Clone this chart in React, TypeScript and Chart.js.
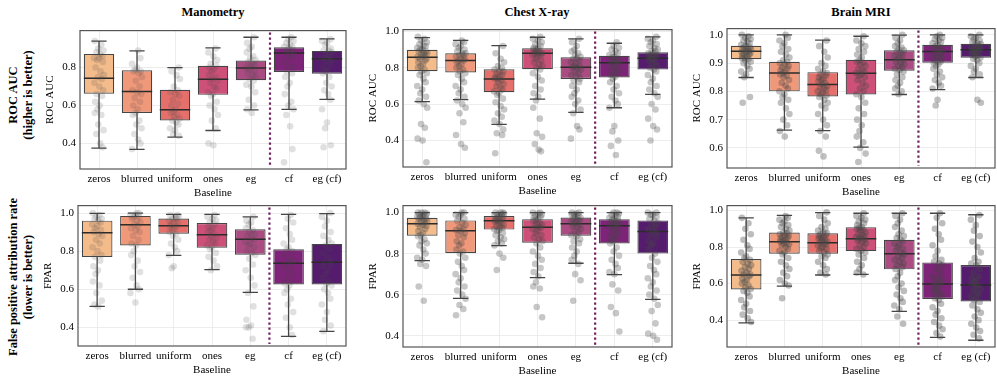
import React, { useEffect, useRef } from 'react';
import { Chart, registerables } from 'chart.js';

Chart.register(...registerables);

const FONT = "'Liberation Serif', 'DejaVu Serif', serif";
Chart.defaults.font.family = FONT;
Chart.defaults.color = '#000';

const BASELINES = ['zeros', 'blurred', 'uniform', 'ones', 'eg', 'cf', 'eg (cf)'];
const BOX_COLORS = ['#f4bb8b', '#f0987a', '#e5706b', '#cd5078', '#aa4b82', '#7d2378', '#551c6e'];

// [whiskerLow, q1, median, q3, whiskerHigh] per baseline
const MANO_ROC_STATS = [
  [0.375, 0.662, 0.744, 0.872, 0.94],
  [0.368, 0.56, 0.674, 0.786, 0.888],
  [0.433, 0.521, 0.577, 0.683, 0.8],
  [0.468, 0.656, 0.738, 0.809, 0.904],
  [0.577, 0.733, 0.798, 0.837, 0.96],
  [0.58, 0.777, 0.877, 0.907, 0.96],
  [0.632, 0.768, 0.846, 0.888, 0.951],
];
const CHEST_ROC_STATS = [
  [0.614, 0.781, 0.858, 0.899, 0.966],
  [0.625, 0.774, 0.84, 0.88, 0.951],
  [0.488, 0.665, 0.738, 0.792, 0.922],
  [0.628, 0.792, 0.88, 0.907, 0.968],
  [0.555, 0.738, 0.803, 0.858, 0.959],
  [0.58, 0.747, 0.827, 0.866, 0.935],
  [0.654, 0.79, 0.853, 0.885, 0.97],
];
const BRAIN_ROC_STATS = [
  [0.849, 0.914, 0.942, 0.961, 1.0],
  [0.663, 0.8, 0.865, 0.905, 1.0],
  [0.661, 0.782, 0.824, 0.868, 0.981],
  [0.603, 0.789, 0.864, 0.912, 0.995],
  [0.789, 0.873, 0.912, 0.945, 0.999],
  [0.806, 0.901, 0.941, 0.965, 1.0],
  [0.849, 0.919, 0.947, 0.968, 1.0],
];
const MANO_FPAR_STATS = [
  [0.51, 0.769, 0.896, 0.96, 0.998],
  [0.6, 0.83, 0.938, 0.985, 1.0],
  [0.778, 0.891, 0.933, 0.971, 0.993],
  [0.703, 0.818, 0.886, 0.948, 0.993],
  [0.584, 0.781, 0.863, 0.915, 0.98],
  [0.353, 0.625, 0.736, 0.81, 0.993],
  [0.379, 0.625, 0.741, 0.838, 0.997],
];
const CHEST_FPAR_STATS = [
  [0.766, 0.887, 0.946, 0.975, 1.0],
  [0.582, 0.803, 0.912, 0.962, 1.0],
  [0.839, 0.917, 0.96, 0.983, 1.0],
  [0.683, 0.853, 0.929, 0.968, 1.0],
  [0.753, 0.887, 0.946, 0.976, 1.0],
  [0.698, 0.849, 0.936, 0.968, 1.0],
  [0.577, 0.8, 0.908, 0.962, 1.0],
];
const BRAIN_FPAR_STATS = [
  [0.385, 0.568, 0.647, 0.735, 0.96],
  [0.586, 0.764, 0.829, 0.88, 0.973],
  [0.647, 0.764, 0.824, 0.875, 0.989],
  [0.651, 0.778, 0.846, 0.909, 0.985],
  [0.448, 0.678, 0.764, 0.84, 0.985],
  [0.306, 0.516, 0.598, 0.716, 0.985],
  [0.29, 0.502, 0.593, 0.702, 0.977],
];

const MANO_ROC_POINTS = [
  [.94,.92,.90,.89,.88,.87,.86,.85,.85,.84,.83,.80,.78,.76,.75,.74,.72,.70,.68,.66,.65,.62,.60,.58,.56,.55,.50,.47,.45,.40,.38],
  [.89,.85,.82,.80,.79,.78,.78,.77,.75,.73,.70,.68,.67,.66,.64,.62,.60,.58,.56,.55,.52,.50,.48,.45,.42,.40,.37],
  [.80,.78,.76,.74,.70,.68,.67,.66,.65,.63,.61,.60,.58,.57,.56,.55,.54,.53,.52,.51,.50,.48,.47,.45,.44],
  [.90,.88,.86,.84,.82,.81,.80,.79,.78,.76,.75,.74,.73,.72,.70,.69,.67,.66,.65,.62,.60,.58,.55,.52,.48,.40,.39],
  [.96,.93,.91,.90,.88,.86,.85,.84,.83,.82,.81,.80,.80,.79,.78,.77,.76,.75,.74,.73,.71,.70,.67,.63,.60,.58,.56],
  [.96,.95,.94,.93,.92,.91,.91,.90,.89,.89,.88,.88,.87,.86,.85,.83,.81,.80,.78,.77,.75,.72,.70,.66,.62,.60,.58,.55,.49,.37,.30],
  [.95,.94,.93,.92,.90,.89,.89,.88,.87,.86,.85,.85,.84,.83,.82,.80,.79,.78,.77,.75,.72,.70,.68,.66,.63,.58,.51,.48,.39,.38],
];
const CHEST_ROC_POINTS = [
  [.97,.96,.95,.94,.93,.92,.92,.91,.90,.90,.89,.89,.88,.88,.87,.87,.86,.86,.85,.85,.84,.83,.82,.81,.80,.79,.78,.77,.76,.74,.72,.70,.68,.66,.64,.62,.60,.58,.49,.47,.41,.40,.28],
  [.95,.94,.93,.92,.91,.90,.89,.88,.88,.87,.87,.86,.85,.85,.84,.84,.83,.82,.81,.80,.79,.78,.77,.76,.74,.72,.70,.68,.66,.64,.62,.60,.58,.55,.50,.43,.38,.36],
  [.92,.88,.85,.83,.81,.80,.79,.78,.78,.77,.76,.75,.75,.74,.74,.73,.72,.71,.70,.69,.68,.67,.66,.65,.63,.61,.59,.57,.55,.53,.51,.49,.46,.44,.43,.33],
  [.97,.96,.95,.94,.93,.92,.91,.91,.90,.90,.89,.89,.88,.88,.88,.87,.87,.86,.85,.84,.83,.82,.81,.80,.79,.77,.75,.73,.70,.68,.66,.64,.62,.58,.52,.44,.42,.38,.35,.34],
  [.96,.94,.92,.90,.89,.88,.87,.86,.85,.85,.84,.83,.82,.81,.81,.80,.80,.79,.78,.77,.76,.75,.74,.73,.72,.70,.68,.66,.64,.62,.60,.57,.55,.48,.46,.41],
  [.94,.92,.91,.90,.89,.88,.87,.86,.86,.85,.84,.84,.83,.83,.82,.81,.80,.79,.78,.77,.76,.75,.74,.72,.70,.68,.66,.64,.62,.60,.58,.48,.45,.40,.37,.32],
  [.97,.96,.95,.94,.93,.92,.91,.90,.89,.89,.88,.88,.87,.87,.86,.86,.85,.85,.84,.83,.82,.81,.80,.79,.78,.76,.74,.72,.70,.68,.66,.64,.60,.57,.52,.48,.46,.40],
];
const BRAIN_ROC_POINTS = [
  [1.0,.995,.99,.985,.98,.975,.97,.965,.96,.958,.955,.952,.95,.948,.945,.943,.94,.938,.935,.932,.93,.927,.924,.92,.917,.914,.91,.905,.9,.89,.88,.87,.86,.85,.78,.76],
  [1.0,.99,.98,.97,.96,.95,.94,.93,.92,.91,.905,.9,.895,.89,.885,.88,.875,.87,.865,.86,.855,.85,.84,.83,.82,.81,.80,.79,.78,.77,.76,.74,.72,.70,.68,.66,.64],
  [.98,.96,.94,.92,.90,.89,.88,.87,.865,.86,.855,.85,.845,.84,.835,.83,.825,.82,.815,.81,.805,.80,.795,.79,.785,.78,.77,.76,.75,.74,.72,.70,.68,.66,.64,.59,.57],
  [.995,.98,.97,.96,.95,.94,.93,.92,.91,.905,.9,.895,.89,.88,.875,.87,.865,.86,.855,.85,.84,.83,.82,.81,.80,.79,.78,.76,.74,.72,.70,.68,.66,.64,.62,.60,.58,.55],
  [1.0,.99,.98,.97,.96,.955,.95,.945,.94,.935,.93,.925,.92,.915,.91,.905,.9,.895,.89,.885,.88,.875,.87,.86,.85,.84,.83,.82,.81,.80,.79],
  [1.0,.995,.99,.985,.98,.975,.97,.965,.96,.955,.95,.945,.94,.935,.93,.925,.92,.915,.91,.905,.9,.895,.89,.88,.87,.86,.85,.84,.83,.82,.81,.77,.75],
  [1.0,.995,.99,.985,.98,.975,.97,.967,.964,.96,.956,.953,.95,.947,.944,.94,.937,.934,.93,.927,.924,.92,.915,.91,.90,.89,.88,.87,.86,.85,.77,.76],
];
const MANO_FPAR_POINTS = [
  [1.0,.99,.98,.97,.97,.96,.95,.94,.93,.92,.91,.90,.89,.88,.86,.84,.82,.80,.78,.77,.75,.72,.70,.68,.64,.62,.58,.54,.52,.51],
  [1.0,1.0,.99,.99,.98,.98,.97,.96,.95,.94,.93,.92,.91,.90,.88,.86,.84,.83,.80,.78,.75,.72,.69,.66,.62,.60,.58,.53],
  [.99,.99,.98,.98,.97,.97,.96,.95,.95,.94,.93,.93,.92,.91,.90,.89,.88,.86,.84,.82,.80,.78,.72,.71],
  [.99,.98,.97,.96,.95,.94,.93,.92,.91,.90,.89,.88,.87,.86,.85,.84,.83,.82,.81,.79,.77,.75,.72,.70],
  [.98,.96,.95,.94,.92,.91,.90,.89,.88,.87,.86,.85,.84,.83,.82,.80,.79,.78,.76,.73,.70,.66,.62,.58,.51,.44,.41,.40,.40,.34],
  [.99,.97,.95,.92,.89,.86,.84,.82,.81,.80,.78,.76,.75,.74,.73,.72,.70,.68,.66,.64,.63,.62,.60,.58,.55,.52,.48,.45,.40,.36],
  [1.0,.98,.96,.93,.90,.88,.86,.84,.83,.81,.79,.77,.75,.74,.73,.72,.70,.68,.66,.64,.63,.62,.60,.58,.55,.52,.48,.44,.41,.38],
];
const CHEST_FPAR_POINTS = [
  [1.0,1.0,1.0,.995,.99,.99,.985,.98,.98,.975,.97,.97,.965,.96,.955,.95,.945,.94,.935,.93,.92,.91,.90,.89,.885,.87,.86,.85,.84,.82,.80,.78,.77,.75,.74,.64,.57],
  [1.0,1.0,.99,.99,.98,.97,.96,.95,.94,.93,.92,.915,.91,.90,.89,.88,.86,.85,.84,.82,.81,.80,.78,.76,.74,.72,.70,.68,.66,.64,.62,.60,.58,.55,.53,.50],
  [1.0,1.0,1.0,.995,.99,.99,.985,.98,.98,.975,.97,.965,.96,.96,.955,.95,.945,.94,.935,.93,.925,.92,.915,.91,.90,.89,.88,.87,.86,.85,.84,.80,.78,.72],
  [1.0,1.0,.995,.99,.985,.98,.975,.97,.965,.96,.95,.945,.94,.935,.93,.925,.92,.91,.90,.89,.88,.87,.86,.85,.83,.81,.79,.77,.75,.73,.71,.69,.66,.64,.63,.54,.49],
  [1.0,1.0,.995,.99,.99,.985,.98,.975,.97,.965,.96,.955,.95,.945,.94,.935,.93,.92,.91,.90,.89,.885,.87,.86,.85,.83,.81,.79,.77,.75,.70,.67,.57],
  [1.0,1.0,.995,.99,.985,.98,.975,.97,.965,.96,.955,.95,.945,.94,.935,.93,.92,.91,.90,.89,.88,.87,.86,.85,.83,.81,.79,.77,.75,.73,.71,.70,.65,.62,.54,.51,.42],
  [1.0,1.0,.99,.99,.98,.97,.96,.95,.94,.93,.92,.91,.90,.89,.88,.86,.85,.84,.82,.80,.78,.76,.74,.72,.70,.68,.66,.64,.62,.60,.58,.55,.52,.46,.41,.40,.38],
];
const BRAIN_FPAR_POINTS = [
  [.96,.93,.90,.87,.84,.81,.79,.77,.75,.74,.73,.72,.71,.70,.69,.68,.67,.66,.65,.65,.64,.63,.62,.61,.60,.59,.58,.57,.56,.55,.53,.51,.49,.47,.45,.43,.41,.39],
  [.97,.96,.95,.94,.93,.92,.91,.90,.89,.88,.875,.87,.865,.86,.855,.85,.845,.84,.835,.83,.825,.82,.815,.81,.80,.79,.78,.77,.76,.74,.72,.70,.68,.66,.64,.62,.60,.59,.52],
  [.99,.97,.95,.93,.91,.90,.89,.88,.875,.87,.865,.86,.855,.85,.845,.84,.835,.83,.825,.82,.815,.81,.80,.795,.79,.78,.77,.76,.75,.74,.72,.70,.68,.66,.65],
  [.985,.97,.96,.95,.94,.93,.92,.91,.905,.90,.895,.89,.88,.87,.865,.86,.855,.85,.845,.84,.835,.83,.82,.81,.80,.79,.78,.77,.76,.74,.72,.70,.68,.66,.65],
  [.985,.97,.95,.93,.91,.89,.87,.86,.85,.84,.83,.82,.81,.80,.79,.78,.77,.76,.75,.74,.73,.72,.71,.70,.69,.68,.66,.64,.62,.60,.58,.56,.54,.52,.50,.48,.46,.42,.38],
  [.985,.96,.93,.90,.87,.84,.81,.78,.75,.73,.72,.71,.70,.68,.66,.64,.63,.62,.61,.60,.59,.58,.57,.56,.55,.54,.53,.52,.51,.49,.47,.45,.43,.41,.39,.37,.35,.33,.31],
  [.975,.95,.92,.89,.86,.83,.80,.77,.74,.72,.71,.70,.68,.66,.64,.63,.62,.61,.60,.59,.58,.57,.56,.55,.54,.53,.52,.51,.50,.48,.46,.44,.42,.40,.38,.36,.34,.32,.30],
];

const ROC_TICKS = [0.4, 0.6, 0.8];
const ROC_TICKS_CHEST = [0.4, 0.6, 0.8, 1.0];
const ROC_TICKS_BRAIN = [0.6, 0.7, 0.8, 0.9, 1.0];
const FPAR_TICKS = [0.4, 0.6, 0.8, 1.0];

// horizontal strip jitter offsets (in category units)
const JITTER = [-0.11, 0.06, -0.02, 0.12, -0.07, 0.03, 0.09, -0.13, 0.0, -0.05, 0.1, -0.09, 0.04, 0.13, -0.03, 0.07, -0.12, 0.01, 0.11, -0.06, 0.08, -0.1, 0.02, -0.04];

const Y_AXIS_W = 36;
const X_AXIS_H = 31;
const PADT = 10;
const PADR = 4;

type Panel = {
  stats: number[][];
  points: number[][];
  ticks: number[];
  yMin: number;
  yMax: number;
  yTitle: string;
  alpha: number;
  L: number; T: number; R: number; B: number;
};

const PANELS: Panel[] = [
  { stats: MANO_ROC_STATS, points: MANO_ROC_POINTS, ticks: ROC_TICKS, yMin: 0.265, yMax: 0.995, yTitle: 'ROC AUC', alpha: 0.17, L: 80, T: 30, R: 346, B: 169 },
  { stats: CHEST_ROC_STATS, points: CHEST_ROC_POINTS, ticks: ROC_TICKS_CHEST, yMin: 0.254, yMax: 1.01, yTitle: 'ROC AUC', alpha: 0.3, L: 403, T: 29, R: 672, B: 167 },
  { stats: BRAIN_ROC_STATS, points: BRAIN_ROC_POINTS, ticks: ROC_TICKS_BRAIN, yMin: 0.529, yMax: 1.022, yTitle: 'ROC AUC', alpha: 0.34, L: 727, T: 28, R: 995, B: 168 },
  { stats: MANO_FPAR_STATS, points: MANO_FPAR_POINTS, ticks: FPAR_TICKS, yMin: 0.302, yMax: 1.039, yTitle: 'FPAR', alpha: 0.17, L: 78, T: 205, R: 346, B: 346 },
  { stats: CHEST_FPAR_STATS, points: CHEST_FPAR_POINTS, ticks: FPAR_TICKS, yMin: 0.345, yMax: 1.034, yTitle: 'FPAR', alpha: 0.3, L: 403, T: 205, R: 672, B: 347 },
  { stats: BRAIN_FPAR_STATS, points: BRAIN_FPAR_POINTS, ticks: FPAR_TICKS, yMin: 0.253, yMax: 1.027, yTitle: 'FPAR', alpha: 0.36, L: 727, T: 205, R: 995, B: 347 },
];

function PanelChart({ p }: { p: Panel }) {
  const ref = useRef<HTMLCanvasElement>(null);
  const width = p.R - p.L + Y_AXIS_W + PADR;
  const height = p.B - p.T + PADT + X_AXIS_H;

  useEffect(() => {
    const canvas = ref.current;
    if (!canvas) return;
    const pts: { x: number; y: number }[] = [];
    p.points.forEach((arr, i) => {
      arr.forEach((v, k) => {
        pts.push({ x: i + JITTER[(k + i * 5) % JITTER.length], y: v });
      });
    });

    const extras = {
      id: 'boxExtras',
      afterDatasetDraw(chart: any, args: any) {
        if (args.index !== 0) return;
        const { ctx, chartArea } = chart;
        const x = chart.scales.x;
        const y = chart.scales.y;
        ctx.save();
        ctx.beginPath();
        ctx.rect(chartArea.left, chartArea.top, chartArea.width, chartArea.height);
        ctx.clip();
        p.stats.forEach((s, i) => {
          const cx = x.getPixelForValue(i);
          const cap = x.getPixelForValue(i + 0.2) - cx;
          const half = x.getPixelForValue(i + 0.4) - cx;
          ctx.strokeStyle = '#454545';
          ctx.lineWidth = 1.3;
          ctx.beginPath();
          ctx.moveTo(cx, y.getPixelForValue(s[1]));
          ctx.lineTo(cx, y.getPixelForValue(s[0]));
          ctx.moveTo(cx, y.getPixelForValue(s[3]));
          ctx.lineTo(cx, y.getPixelForValue(s[4]));
          ctx.moveTo(cx - cap, y.getPixelForValue(s[0]));
          ctx.lineTo(cx + cap, y.getPixelForValue(s[0]));
          ctx.moveTo(cx - cap, y.getPixelForValue(s[4]));
          ctx.lineTo(cx + cap, y.getPixelForValue(s[4]));
          ctx.stroke();
          ctx.strokeStyle = '#2b2b2b';
          ctx.lineWidth = 1.5;
          ctx.beginPath();
          ctx.moveTo(cx - half, y.getPixelForValue(s[2]));
          ctx.lineTo(cx + half, y.getPixelForValue(s[2]));
          ctx.stroke();
        });
        ctx.restore();
      },
      afterDatasetsDraw(chart: any) {
        const { ctx, chartArea } = chart;
        const dx = chart.scales.x.getPixelForValue(4.5);
        ctx.save();
        ctx.strokeStyle = '#6e1f5f';
        ctx.lineWidth = 2.2;
        ctx.setLineDash([2.2, 2.8]);
        ctx.beginPath();
        ctx.moveTo(dx, chartArea.top + 2);
        ctx.lineTo(dx, chartArea.bottom - 2);
        ctx.stroke();
        ctx.restore();
      },
      afterDraw(chart: any) {
        const { ctx, chartArea } = chart;
        ctx.save();
        ctx.strokeStyle = '#555555';
        ctx.lineWidth = 1.2;
        ctx.strokeRect(chartArea.left, chartArea.top, chartArea.width, chartArea.height);
        ctx.restore();
      },
    };

    const chart = new Chart(canvas, {
      type: 'bar',
      data: {
        datasets: [
          {
            type: 'bar',
            data: p.stats.map((s, i) => ({ x: i, y: [s[1], s[3]] })) as any,
            backgroundColor: BOX_COLORS,
            borderColor: '#454545',
            borderWidth: 1.2,
            borderSkipped: false,
            barPercentage: 1,
            categoryPercentage: 0.8,
            order: 2,
          } as any,
          {
            type: 'scatter',
            data: pts,
            pointRadius: 3.3,
            pointBackgroundColor: `rgba(70,70,70,${p.alpha})`,
            pointBorderWidth: 0,
            order: 1,
          } as any,
        ],
      },
      options: {
        responsive: false,
        animation: false,
        devicePixelRatio: 1,
        layout: { padding: { top: PADT, right: PADR, left: 0, bottom: 0 } },
        plugins: { legend: { display: false }, tooltip: { enabled: false } },
        scales: {
          x: {
            type: 'linear',
            min: -0.5,
            max: 6.5,
            offset: false,
            grid: { color: '#e8e8e8', lineWidth: 0.8, drawTicks: false, offset: false },
            border: { display: false },
            afterBuildTicks: (s: any) => {
              s.ticks = BASELINES.map((_, i) => ({ value: i }));
            },
            afterFit: (s: any) => {
              s.height = X_AXIS_H;
            },
            ticks: {
              callback: (v: any) => BASELINES[Math.round(Number(v))] ?? '',
              color: '#000',
              font: { size: 11, family: FONT },
              padding: 4,
              autoSkip: false,
              maxRotation: 0,
            },
            title: { display: true, text: 'Baseline', color: '#000', font: { size: 11, family: FONT }, padding: 0 },
          },
          y: {
            type: 'linear',
            min: p.yMin,
            max: p.yMax,
            grid: { color: '#e8e8e8', lineWidth: 0.8, drawTicks: false },
            border: { display: false },
            afterBuildTicks: (s: any) => {
              s.ticks = p.ticks.map((v) => ({ value: v }));
            },
            afterFit: (s: any) => {
              s.width = Y_AXIS_W;
            },
            ticks: {
              callback: (v: any) => Number(v).toFixed(1),
              color: '#000',
              font: { size: 11, family: FONT },
              padding: 4,
            },
            title: { display: true, text: p.yTitle, color: '#000', font: { size: 11, family: FONT }, padding: 0 },
          },
        },
      } as any,
      plugins: [extras],
    });
    return () => chart.destroy();
  }, [p]);

  return (
    <canvas
      ref={ref}
      width={width}
      height={height}
      style={{ position: 'absolute', left: p.L - Y_AXIS_W, top: p.T - PADT, width, height }}
    />
  );
}

const TITLES = [
  { text: 'Manometry', cx: 213 },
  { text: 'Chest X-ray', cx: 537 },
  { text: 'Brain MRI', cx: 861 },
];

const ROW_LABELS = [
  { lines: ['ROC AUC', '(higher is better)'], cy: 95 },
  { lines: ['False positive attribution rate', '(lower is better)'], cy: 277 },
];

export default function App() {
  return (
    <div
      style={{
        position: 'fixed',
        left: 0,
        top: 0,
        width: 997,
        height: 377,
        overflow: 'hidden',
        background: '#fff',
        fontFamily: FONT,
      }}
    >
      {TITLES.map((t) => (
        <div
          key={t.text}
          style={{
            position: 'absolute',
            left: t.cx - 100,
            top: 4,
            width: 200,
            textAlign: 'center',
            fontWeight: 'bold',
            fontSize: 12.5,
            lineHeight: '16px',
            color: '#000',
          }}
        >
          {t.text}
        </div>
      ))}
      {ROW_LABELS.map((r) => (
        <div
          key={r.lines[0]}
          style={{
            position: 'absolute',
            left: 21 - 110,
            top: r.cy - 15,
            width: 220,
            height: 30,
            transform: 'rotate(-90deg)',
            textAlign: 'center',
            fontWeight: 'bold',
            fontSize: 12.5,
            lineHeight: '15px',
            color: '#000',
            whiteSpace: 'nowrap',
          }}
        >
          {r.lines.map((l) => (
            <div key={l}>{l}</div>
          ))}
        </div>
      ))}
      {PANELS.map((p, i) => (
        <PanelChart key={i} p={p} />
      ))}
    </div>
  );
}
